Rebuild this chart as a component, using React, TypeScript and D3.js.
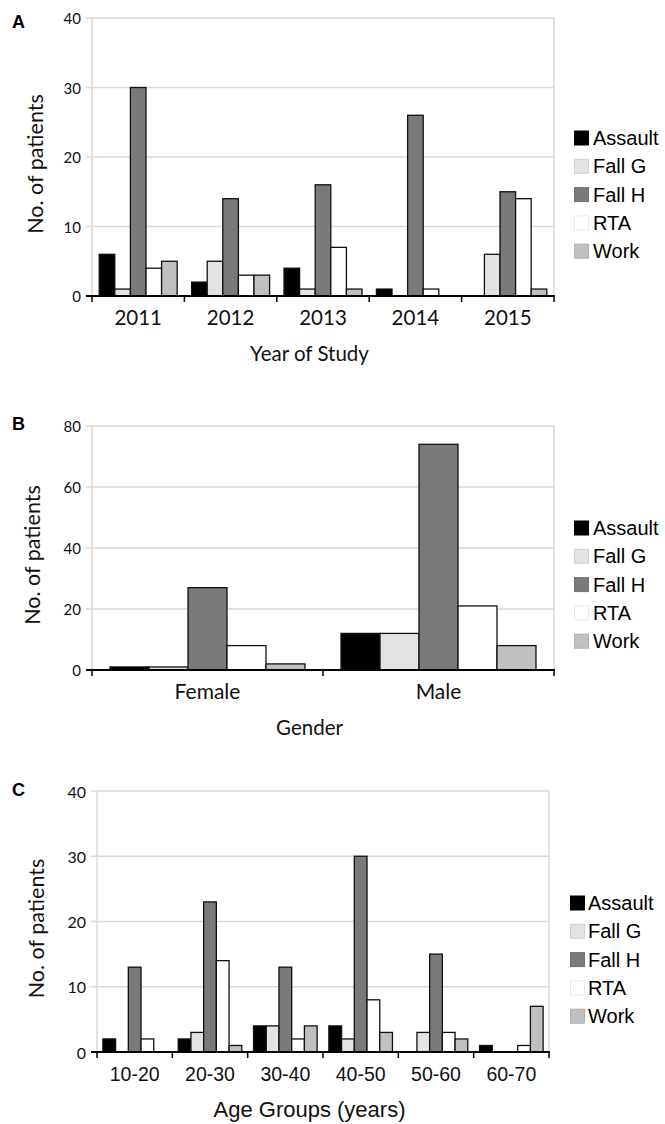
import React, { useEffect, useRef } from 'react';
import * as d3 from 'd3';

const series = ['Assault', 'Fall G', 'Fall H', 'RTA', 'Work'];
const seriesColors = ['#000000', '#e2e3e2', '#7a7a7a', '#ffffff', '#c0c0c0'];

const years = ['2011', '2012', '2013', '2014', '2015'];
const assaultByYear = [6, 2, 4, 1, 0];
const fallGByYear = [1, 5, 1, 0, 6];
const fallHByYear = [30, 14, 16, 26, 15];
const rtaByYear = [4, 3, 7, 1, 14];
const workByYear = [5, 3, 1, 0, 1];

const genders = ['Female', 'Male'];
const assaultByGender = [1, 12];
const fallGByGender = [1, 12];
const fallHByGender = [27, 74];
const rtaByGender = [8, 21];
const workByGender = [2, 8];

const ageGroups = ['10-20', '20-30', '30-40', '40-50', '50-60', '60-70'];
const assaultByAge = [2, 2, 4, 4, 0, 1];
const fallGByAge = [0, 3, 4, 2, 3, 0];
const fallHByAge = [13, 23, 13, 30, 15, 0];
const rtaByAge = [2, 14, 2, 8, 3, 1];
const workByAge = [0, 1, 4, 3, 2, 7];

const yTicksA = [0, 10, 20, 30, 40];
const yTicksB = [0, 20, 40, 60, 80];
const yTicksC = [0, 10, 20, 30, 40];

const calibriLike = 'Lato, "Open Sans", sans-serif';
const arialLike = '"Liberation Sans", Arial, sans-serif';

const panels = [
  {
    letter: 'A', letterY: 28,
    categories: years,
    values: [assaultByYear, fallGByYear, fallHByYear, rtaByYear, workByYear],
    ticks: yTicksA, xTitle: 'Year of Study',
    left: 92, right: 554, top: 18, bottom: 296,
    yTitleX: 35, tickSize: 15,
    catFont: calibriLike, catSize: 20.5, xTitleFont: calibriLike, xTitleSize: 20.5,
    legendX: 574, legendY: 138, legendTextX: 593,
  },
  {
    letter: 'B', letterY: 430,
    categories: genders,
    values: [assaultByGender, fallGByGender, fallHByGender, rtaByGender, workByGender],
    ticks: yTicksB, xTitle: 'Gender',
    left: 92, right: 554, top: 426, bottom: 670,
    yTitleX: 32, tickSize: 15,
    catFont: calibriLike, catSize: 21, xTitleFont: calibriLike, xTitleSize: 20.5,
    legendX: 574, legendY: 528, legendTextX: 593,
  },
  {
    letter: 'C', letterY: 796,
    categories: ageGroups,
    values: [assaultByAge, fallGByAge, fallHByAge, rtaByAge, workByAge],
    ticks: yTicksC, xTitle: 'Age Groups (years)',
    left: 97, right: 549, top: 791, bottom: 1052,
    yTitleX: 36, tickSize: 16,
    catFont: arialLike, catSize: 19.5, xTitleFont: arialLike, xTitleSize: 22,
    legendX: 570, legendY: 903, legendTextX: 588,
  },
];

const App = () => {
  const svgRef = useRef<SVGSVGElement>(null);

  useEffect(() => {
    const svg = d3.select(svgRef.current);
    svg.selectAll('*').remove();

    panels.forEach((p) => {
      const g = svg.append('g');
      const x0 = d3.scaleBand().domain(p.categories).range([p.left, p.right]).padding(0);
      const pad = x0.bandwidth() * 0.078;
      const x1 = d3.scaleBand().domain(series).range([pad, x0.bandwidth() - pad]).padding(0);
      const y = d3.scaleLinear().domain([0, p.ticks[p.ticks.length - 1]]).range([p.bottom, p.top]);

      // grid + y ticks
      p.ticks.forEach((t) => {
        if (t > 0) {
          g.append('line')
            .attr('x1', p.left - 6).attr('x2', p.right)
            .attr('y1', y(t)).attr('y2', y(t))
            .attr('stroke', '#d9d9d9').attr('stroke-width', 1.5);
        }
        g.append('text')
          .attr('x', p.left - 11).attr('y', y(t))
          .attr('text-anchor', 'end').attr('dominant-baseline', 'central')
          .style('font-family', calibriLike).style('font-size', `${p.tickSize}px`)
          .attr('fill', '#111')
          .text(t);
      });
      // plot border left/right
      g.append('line').attr('x1', p.left).attr('x2', p.left).attr('y1', p.top).attr('y2', p.bottom)
        .attr('stroke', '#d9d9d9').attr('stroke-width', 1.5);
      g.append('line').attr('x1', p.right).attr('x2', p.right).attr('y1', p.top).attr('y2', p.bottom)
        .attr('stroke', '#d9d9d9').attr('stroke-width', 1.5);

      // bars
      p.categories.forEach((cat, ci) => {
        series.forEach((s, si) => {
          const v = p.values[si][ci];
          if (!v) return;
          g.append('rect')
            .attr('x', (x0(cat) as number) + (x1(s) as number))
            .attr('y', y(v))
            .attr('width', x1.bandwidth())
            .attr('height', y(0) - y(v))
            .attr('fill', seriesColors[si])
            .attr('stroke', '#111').attr('stroke-width', 1.3);
        });
      });

      // x axis
      g.append('line').attr('x1', p.left - 6).attr('x2', p.right + 1)
        .attr('y1', p.bottom).attr('y2', p.bottom)
        .attr('stroke', '#000').attr('stroke-width', 2);
      const bounds = [...p.categories.map((c) => x0(c) as number), p.right];
      bounds.forEach((bx) => {
        g.append('line').attr('x1', bx).attr('x2', bx).attr('y1', p.bottom).attr('y2', p.bottom + 6)
          .attr('stroke', '#000').attr('stroke-width', 1.5);
      });
      p.categories.forEach((cat) => {
        g.append('text')
          .attr('x', (x0(cat) as number) + x0.bandwidth() / 2)
          .attr('y', p.bottom + 29)
          .attr('text-anchor', 'middle')
          .style('font-family', p.catFont).style('font-size', `${p.catSize}px`)
          .attr('fill', '#111')
          .text(cat);
      });

      // axis titles
      g.append('text')
        .attr('x', 309.5).attr('y', p.bottom + 65)
        .attr('text-anchor', 'middle')
        .style('font-family', p.xTitleFont).style('font-size', `${p.xTitleSize}px`)
        .attr('fill', '#111')
        .text(p.xTitle);
      const midY = (p.top + p.bottom) / 2 + 7;
      g.append('text')
        .attr('transform', `translate(${p.yTitleX},${midY}) rotate(-90)`)
        .attr('text-anchor', 'middle').attr('dominant-baseline', 'central')
        .style('font-family', calibriLike).style('font-size', '21.5px')
        .attr('fill', '#111')
        .text('No. of patients');

      // panel letter
      g.append('text')
        .attr('x', 12).attr('y', p.letterY)
        .style('font-family', arialLike).style('font-size', '18px').style('font-weight', 'bold')
        .text(p.letter);

      // legend
      series.forEach((s, si) => {
        const cy = p.legendY + si * 28.3;
        const fill = seriesColors[si];
        g.append('rect')
          .attr('x', p.legendX + 0.5).attr('y', cy - 7)
          .attr('width', 14).attr('height', 14)
          .attr('fill', fill)
          .attr('stroke', si === 0 ? '#000' : (d3.color(fill) as d3.RGBColor).darker(0.25).formatHex())
          .attr('stroke-width', 1);
        g.append('text')
          .attr('x', p.legendTextX).attr('y', cy)
          .attr('dominant-baseline', 'central')
          .style('font-family', arialLike).style('font-size', '20px')
          .attr('fill', '#000')
          .text(s);
      });
    });
  }, []);

  return (
    <svg
      ref={svgRef}
      width={665}
      height={1124}
      style={{ position: 'absolute', left: 0, top: 0, background: '#fff' }}
    />
  );
};

export default App;
